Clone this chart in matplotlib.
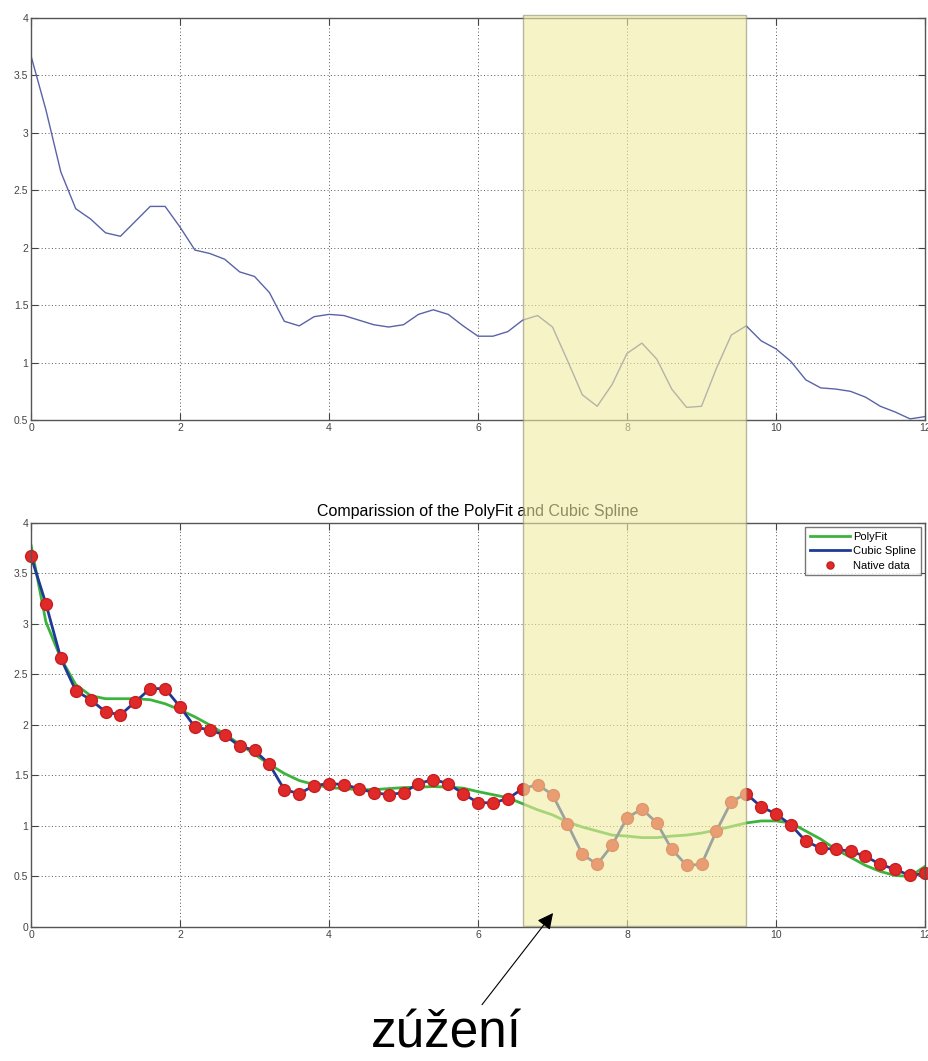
import matplotlib
matplotlib.use('Agg')
import matplotlib.pyplot as plt
from matplotlib.patches import Rectangle
from matplotlib.text import Annotation
from matplotlib.transforms import blended_transform_factory

plt.rcParams['font.family'] = ['Liberation Sans', 'DejaVu Sans']

# mereni (krok 0.2)
x_data = [round(0.2 * i, 1) for i in range(61)]
y_data = [3.67, 3.20, 2.66, 2.34, 2.25, 2.13, 2.10, 2.23, 2.36, 2.36,
          2.18, 1.98, 1.95, 1.90, 1.79, 1.75, 1.61, 1.36, 1.32, 1.40,
          1.42, 1.41, 1.37, 1.33, 1.31, 1.33, 1.42, 1.46, 1.42, 1.32,
          1.23, 1.23, 1.27, 1.37, 1.41, 1.31, 1.02, 0.72, 0.62, 0.81,
          1.08, 1.17, 1.03, 0.77, 0.61, 0.62, 0.95, 1.24, 1.32, 1.19,
          1.12, 1.01, 0.85, 0.78, 0.77, 0.75, 0.70, 0.62, 0.57, 0.51, 0.53]

# polyfit krivka
y_fit = [3.78, 3.02, 2.66, 2.40, 2.29, 2.26, 2.26, 2.26, 2.25, 2.21,
         2.15, 2.08, 2.00, 1.91, 1.81, 1.71, 1.61, 1.52, 1.45, 1.41,
         1.38, 1.37, 1.36, 1.36, 1.37, 1.38, 1.385, 1.39, 1.385, 1.375,
         1.34, 1.31, 1.28, 1.22, 1.16, 1.11, 1.04, 0.99, 0.95, 0.91,
         0.90, 0.885, 0.885, 0.90, 0.91, 0.93, 0.96, 0.995, 1.03, 1.05,
         1.05, 1.03, 0.95, 0.87, 0.77, 0.69, 0.61, 0.55, 0.51, 0.50, 0.60]

x_ticks = [0, 2, 4, 6, 8, 10, 12]
y_ticks_top = [0.5, 1, 1.5, 2, 2.5, 3, 3.5, 4]
y_ticks_bottom = [0, 0.5, 1, 1.5, 2, 2.5, 3, 3.5, 4]
narrow_x = (6.6, 9.6)

fig = plt.figure(figsize=(9.29, 10.61), dpi=100)
ax1 = fig.add_axes([0.0334, 0.6041, 0.9623, 0.3789])
ax2 = fig.add_axes([0.0334, 0.1263, 0.9623, 0.3808])

def matlab_style(ax, yticks):
    ax.set_xlim(0, 12)
    ax.set_xticks(x_ticks)
    ax.set_yticks(yticks)
    ax.set_xticklabels([str(t) for t in x_ticks])
    ax.set_yticklabels(['%g' % t for t in yticks])
    ax.set_ylim(yticks[0], yticks[-1])
    ax.tick_params(direction='in', length=5, width=0.8, labelsize=7.5,
                   top=True, right=True, colors='#444444', pad=2)
    ax.grid(True, linestyle=(0, (1, 2.5)), color='#555555', linewidth=0.7)
    for s in ax.spines.values():
        s.set_color('#555555')
        s.set_linewidth(1.0)

ax1.plot(x_data, y_data, color='#5a63a8', linewidth=1.0)
matlab_style(ax1, y_ticks_top)

ax2.plot(x_data, y_fit, color='#3cb43c', linewidth=2.0, label='PolyFit')
ax2.plot(x_data, y_data, color='#1f3a96', linewidth=2.0, label='Cubic Spline')
ax2.plot(x_data, y_data, 'o', color='#e02a2a', markeredgecolor='#c81e1e',
         markersize=8.5, label='Native data', clip_on=False)
matlab_style(ax2, y_ticks_bottom)
ax2.set_title('Comparission of the PolyFit and Cubic Spline', fontsize=11.5,
              pad=5)
leg = ax2.legend(loc='upper right', fontsize=8, frameon=True, fancybox=False,
                 borderaxespad=0.4, handlelength=3.6, labelspacing=0.4,
                 borderpad=0.4, handletextpad=0.3, markerscale=0.6)
leg.get_frame().set_edgecolor('#555555')
leg.get_frame().set_linewidth(1.0)

# zvyrazneni zuzeni pres oba grafy
trans = blended_transform_factory(ax2.transData, fig.transFigure)
rect = Rectangle((narrow_x[0], 0.1272), narrow_x[1] - narrow_x[0], 0.8587,
                 transform=trans, facecolor='#f0eba3', alpha=0.6,
                 edgecolor='#8c8c6e', linewidth=1.0, zorder=10)
fig.add_artist(rect)

# sipka nad obdelnikem
arrow = Annotation('', xy=(7.03, 0.16), xycoords=ax2.transData,
                   xytext=(0.517, 0.051), textcoords=fig.transFigure,
                   arrowprops=dict(arrowstyle='-|>', color='black', lw=0.8,
                                   mutation_scale=24),
                   annotation_clip=False)
arrow.set_zorder(11)
fig.add_artist(arrow)
fig.text(0.481, 0.002, 'zúžení', fontsize=37, ha='center', va='bottom')

fig.savefig('out.png', dpi=100)
